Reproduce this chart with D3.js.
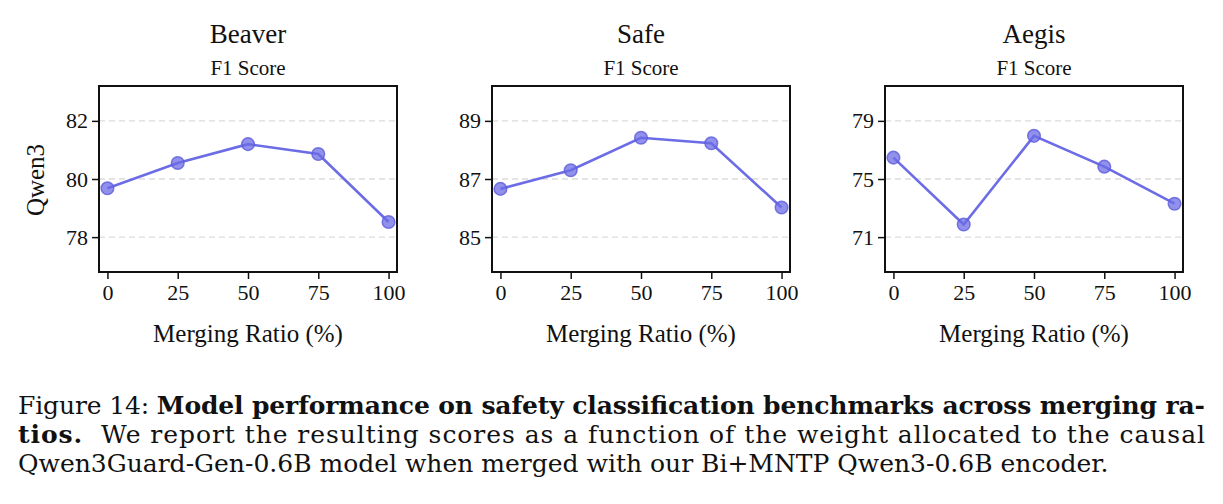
<!DOCTYPE html>
<html>
<head>
<meta charset="utf-8">
<script src="https://cdn.jsdelivr.net/npm/d3@7"></script>
<style>
  body { margin: 0; background: #fff; }
  svg text { font-family: "Liberation Serif", "Times New Roman", serif; fill: #111; }
  .caption text { font-family: "DejaVu Serif", serif; }
</style>
</head>
<body>
<svg id="chart" width="1223" height="504"></svg>
<script>
// merging ratio (%) on the x axis
const ratios = [0, 25, 50, 75, 100];

// F1 scores per benchmark
const beaverScores = [79.68, 80.55, 81.2, 80.86, 78.52];
const safeScores = [86.66, 87.3, 88.42, 88.23, 86.02];
const aegisScores = [76.47, 71.87, 77.97, 75.85, 73.3];

// y tick labels per panel
const beaverTicks = [78, 80, 82];
const safeTicks = [85, 87, 89];
const aegisTicks = [71, 75, 79];

const panels = [
  { name: "Beaver", scores: beaverScores, ticks: beaverTicks, domain: [76.8, 83.2], left: 99 },
  { name: "Safe", scores: safeScores, ticks: safeTicks, domain: [83.8, 90.2], left: 492 },
  { name: "Aegis", scores: aegisScores, ticks: aegisTicks, domain: [68.6, 81.4], left: 885 },
];

const captionLines = [
  [["Figure 14: ", "normal"], ["Model performance on safety classification benchmarks across merging ra-", "bold"]],
  [["tios.", "bold"], ["  We report the resulting scores as a function of the weight allocated to the causal", "normal"]],
  [["Qwen3Guard-Gen-0.6B model when merged with our Bi+MNTP Qwen3-0.6B encoder.", "normal"]],
];

const svg = d3.select("#chart");
const lineColor = "#6c6ce6";
const serif = "'Liberation Serif', 'Times New Roman', serif";

const plotW = 298;
const plotTop = 86;
const plotBottom = 272;

panels.forEach((p, i) => {
  const g = svg.append("g");
  const x = d3.scaleLinear().domain([-3, 103]).range([p.left, p.left + plotW]);
  const y = d3.scaleLinear().domain(p.domain).range([plotBottom, plotTop]);
  const cx = p.left + plotW / 2;

  // grid lines
  g.append("g")
    .selectAll("line")
    .data(p.ticks)
    .join("line")
    .attr("x1", p.left)
    .attr("x2", p.left + plotW)
    .attr("y1", (d) => y(d))
    .attr("y2", (d) => y(d))
    .attr("stroke", "#dcdcdc")
    .attr("stroke-width", 1.3)
    .attr("stroke-dasharray", "6,4");

  // the series
  const pts = ratios.map((r, k) => [r, p.scores[k]]);
  g.append("path")
    .datum(pts)
    .attr("fill", "none")
    .attr("stroke", lineColor)
    .attr("stroke-width", 2.6)
    .attr("d", d3.line().x((d) => x(d[0])).y((d) => y(d[1])));

  g.append("g")
    .selectAll("circle")
    .data(pts)
    .join("circle")
    .attr("cx", (d) => x(d[0]))
    .attr("cy", (d) => y(d[1]))
    .attr("r", 6.3)
    .attr("fill", lineColor)
    .attr("fill-opacity", 0.75)
    .attr("stroke", "#5c5cdc")
    .attr("stroke-opacity", 0.8)
    .attr("stroke-width", 1.5);

  // axes
  const xAxis = g.append("g")
    .attr("transform", `translate(0,${plotBottom})`)
    .call(d3.axisBottom(x).tickValues(ratios).tickFormat(d3.format("d")).tickSize(7).tickPadding(5));
  const yAxis = g.append("g")
    .attr("transform", `translate(${p.left},0)`)
    .call(d3.axisLeft(y).tickValues(p.ticks).tickFormat(d3.format("d")).tickSize(7).tickPadding(4));
  [xAxis, yAxis].forEach((a) => {
    a.attr("font-family", null).attr("font-size", null);
    a.select(".domain").remove();
    a.selectAll("line").attr("stroke", "#111").attr("stroke-width", 1.5);
    a.selectAll("text")
      .style("font-family", serif)
      .style("font-size", "22px")
      .attr("fill", "#111");
  });

  // frame
  g.append("rect")
    .attr("x", p.left)
    .attr("y", plotTop)
    .attr("width", plotW)
    .attr("height", plotBottom - plotTop)
    .attr("fill", "none")
    .attr("stroke", "#111")
    .attr("stroke-width", 2);

  // titles
  g.append("text")
    .attr("x", cx).attr("y", 43)
    .attr("text-anchor", "middle")
    .attr("font-size", 27)
    .text(p.name);
  g.append("text")
    .attr("x", cx).attr("y", 75)
    .attr("text-anchor", "middle")
    .attr("font-size", 21)
    .text("F1 Score");
  g.append("text")
    .attr("x", cx).attr("y", 342)
    .attr("text-anchor", "middle")
    .attr("font-size", 25)
    .text("Merging Ratio (%)");

  if (i === 0) {
    g.append("text")
      .attr("transform", `translate(44,180) rotate(-90)`)
      .attr("text-anchor", "middle")
      .attr("font-size", 25)
      .text("Qwen3");
  }
});

// caption, justified lines
const caption = svg.append("g").attr("class", "caption");
const lineY = [414, 443, 472];
const lineLen = [1187, 1187, null];
captionLines.forEach((parts, i) => {
  const t = caption.append("text")
    .attr("x", 18)
    .attr("y", lineY[i])
    .attr("font-size", 25)
    .attr("xml:space", "preserve");
  if (lineLen[i]) t.attr("textLength", lineLen[i]).attr("lengthAdjust", "spacing");
  parts.forEach(([s, w]) => t.append("tspan").attr("font-weight", w).text(s));
});
</script>
</body>
</html>
